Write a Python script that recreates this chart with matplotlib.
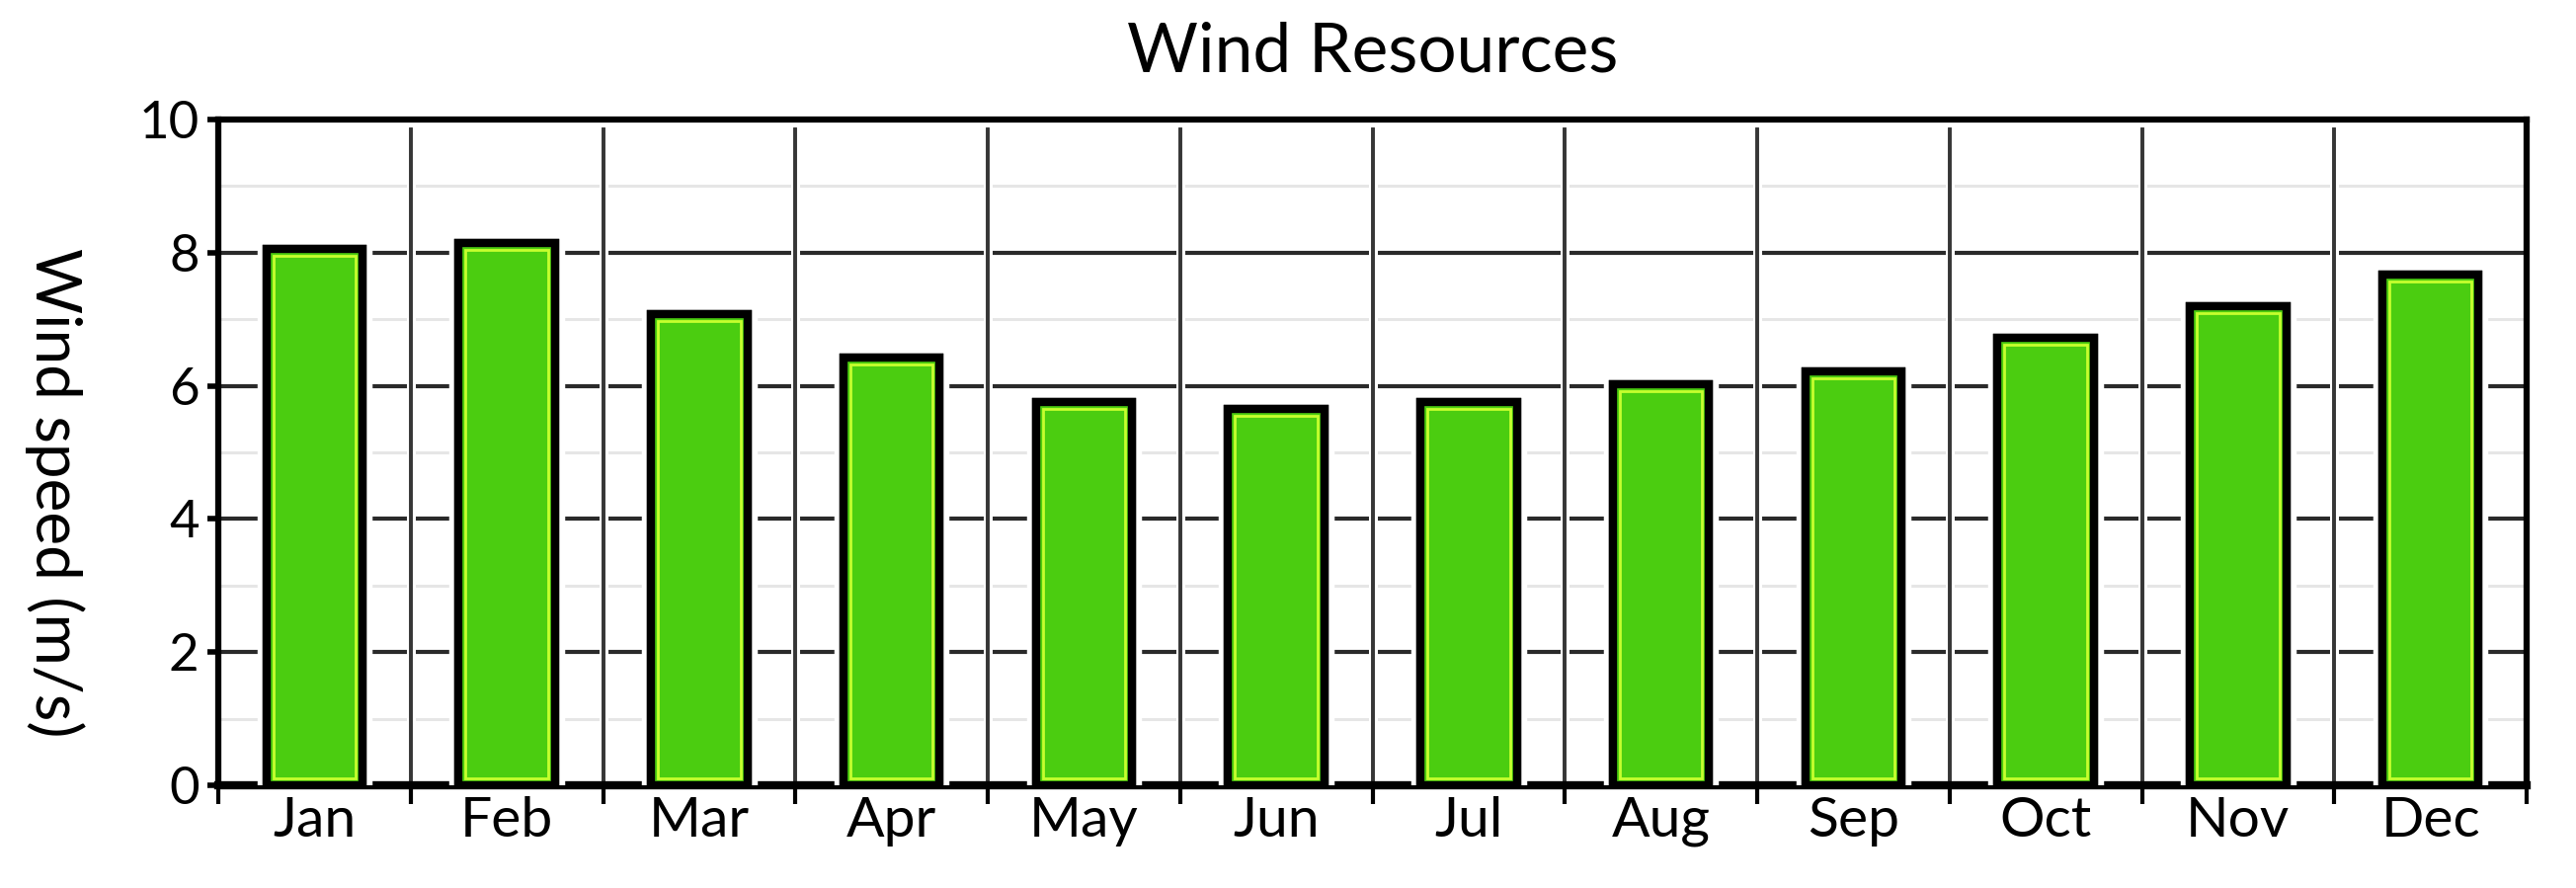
import matplotlib
matplotlib.use("Agg")
import matplotlib.pyplot as plt
import matplotlib.patheffects as pe
import numpy as np

months = ["Jan", "Feb", "Mar", "Apr", "May", "Jun", "Jul", "Aug", "Sep", "Oct", "Nov", "Dec"]
wind_speed = [8.05, 8.15, 7.08, 6.42, 5.75, 5.65, 5.75, 6.02, 6.22, 6.72, 7.2, 7.67]
y_ticks = [0, 2, 4, 6, 8, 10]
minor_ticks = [1, 3, 5, 7, 9]

plt.rcParams['font.family'] = ['Lato', 'DejaVu Sans']

W, H, DPI = 2608, 899, 100
fig = plt.figure(figsize=(W / DPI, H / DPI), dpi=DPI)
ax = fig.add_axes([221 / W, 1 - 795 / H, (2558 - 221) / W, (795 - 121) / H])

x = np.arange(len(months))
ax.set_xlim(-0.5, len(months) - 0.5)
ax.set_ylim(0, 10)

# grid lines
for m in minor_ticks:
    ax.axhline(m, color='#e6e6e6', lw=2.2, zorder=1)
for b in np.arange(-0.5, len(months) - 0.5)[1:]:
    ax.axvline(b, ymin=0, ymax=0.985, color='#363636', lw=2.6, zorder=2,
               path_effects=[pe.withStroke(linewidth=6.5, foreground='white'), pe.Normal()])
for t in y_ticks[1:-1]:
    ax.axhline(t, color='#2a2a2a', lw=3.0, zorder=1.5)

bw = 0.5
bars = ax.bar(x, wind_speed, width=bw, color='#4bcd10', edgecolor='black', linewidth=6,
              zorder=3, path_effects=[pe.withStroke(linewidth=14, foreground='white'), pe.Normal()])
# inner highlight
px_x = (2558 - 221) / len(months)  # px per category unit
px_y = (795 - 121) / 10.0
dx = 7.0 / px_x
dy = 7.0 / px_y
ax.bar(x, np.array(wind_speed) - 2 * dy, bottom=dy, width=bw - 2 * dx, color='none',
       edgecolor='#c6ff2e', linewidth=2.0, zorder=4)

ax.set_yticks(y_ticks)
ax.set_yticklabels([str(v) for v in y_ticks])
ax.set_xticks(np.arange(-0.5, len(months)), minor=False)
ax.set_xticklabels([''] * (len(months) + 1))
ax.set_xticks(x, minor=True)
ax.set_xticklabels(months, minor=True)
ax.tick_params(axis='x', which='minor', length=0, labelsize=41, pad=8)
ax.tick_params(axis='x', which='major', length=14, width=3, direction='out')
ax.tick_params(axis='y', which='major', length=8, width=4, direction='out', labelsize=38, pad=6)

for s in ax.spines.values():
    s.set_linewidth(4.5)
    s.set_color('black')
ax.spines['bottom'].set_linewidth(6)

fig.text(55 / W, 1 - 499 / H, "Wind speed (m/s)", rotation=270, fontsize=46,
         ha='center', va='center')
fig.text((221 + 2558) / 2 / W, 1 - 53 / H, "Wind Resources", fontsize=50,
         ha='center', va='center')

fig.savefig("out.png", dpi=DPI, facecolor='white')
